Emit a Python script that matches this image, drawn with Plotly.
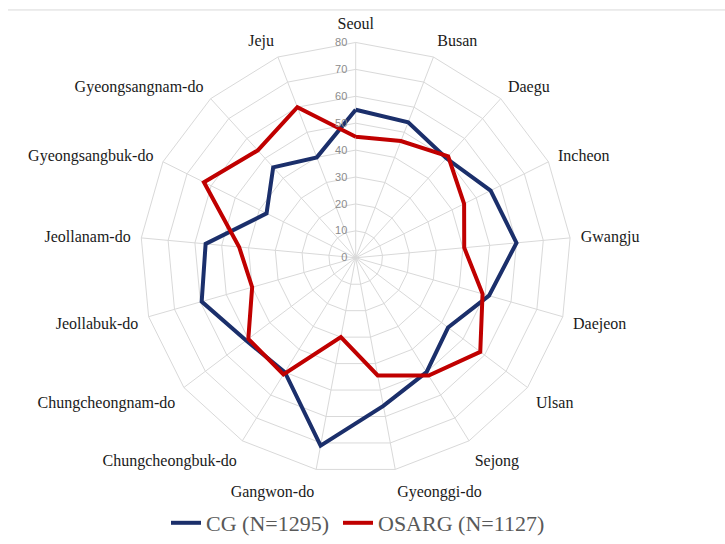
import plotly.graph_objects as go

categories = ["Seoul", "Busan", "Daegu", "Incheon", "Gwangju", "Daejeon", "Ulsan",
              "Sejong", "Gyeonggi-do", "Gangwon-do", "Chungcheongbuk-do",
              "Chungcheongnam-do", "Jeollabuk-do", "Jeollanam-do",
              "Gyeongsangbuk-do", "Gyeongsangnam-do", "Jeju"]
cg_values = [55, 54, 50, 56, 60, 51.5, 43, 50, 56, 71, 50, 51, 59.5, 56, 37, 45.5, 40]
osarg_values = [45, 46.5, 51, 45, 40.5, 49, 58, 51.5, 44.5, 30, 51, 50, 40, 43.5, 63, 54, 60]
series_names = ["CG (N=1295)", "OSARG (N=1127)"]
radial_ticks = [0, 10, 20, 30, 40, 50, 60, 70, 80]

W, H = 725, 544
cx, cy, R = 355.7, 259.2, 216.5

fig = go.Figure()
for name, vals, color, lg in [(series_names[0], cg_values, "#1b2f6b", "legend"),
                              (series_names[1], osarg_values, "#c00000", "legend2")]:
    fig.add_trace(go.Scatterpolar(
        r=vals + vals[:1], theta=categories + categories[:1], mode="lines",
        name=name, legend=lg, showlegend=True, line=dict(color=color, width=4)))

legend_font = dict(family="Liberation Serif", size=22, color="#595959")
fig.update_layout(
    width=W, height=H, margin=dict(l=0, r=0, t=0, b=0),
    paper_bgcolor="white", plot_bgcolor="white",
    font=dict(family="Liberation Serif", color="#222222"),
    polar=dict(
        domain=dict(x=[(cx - R) / W, (cx + R) / W], y=[1 - (cy + R) / H, 1 - (cy - R) / H]),
        bgcolor="white", gridshape="linear",
        radialaxis=dict(range=[0, 80], tickvals=radial_ticks, angle=90, tickangle=90,
                        side="counterclockwise", showline=False,
                        ticks="outside", ticklen=4, tickcolor="rgba(0,0,0,0)",
                        gridcolor="#d9d9d9", gridwidth=1,
                        tickfont=dict(family="Liberation Sans", size=11, color="#8c8c8c")),
        angularaxis=dict(direction="clockwise", rotation=90, showline=True,
                         linecolor="#d9d9d9", linewidth=1, gridcolor="#d9d9d9",
                         ticks="outside", ticklen=7, tickcolor="rgba(0,0,0,0)",
                         tickfont=dict(family="Liberation Serif", size=16, color="#1a1a1a")),
    ),
    showlegend=True,
    legend=dict(orientation="h", x=166 / W, xanchor="left", y=1 - 526 / H, yanchor="middle",
                font=legend_font, itemwidth=30, bgcolor="rgba(0,0,0,0)"),
    legend2=dict(orientation="h", x=338 / W, xanchor="left", y=1 - 526 / H, yanchor="middle",
                 font=legend_font, itemwidth=30, bgcolor="rgba(0,0,0,0)"),
    shapes=[dict(type="line", xref="paper", yref="paper", x0=8 / W, x1=1, y0=1 - 10 / H, y1=1 - 10 / H,
                 line=dict(color="#d9d9d9", width=1))],
)
fig.write_html("out.html", config={"displayModeBar": False},
               post_script="document.body.style.margin='0';")
